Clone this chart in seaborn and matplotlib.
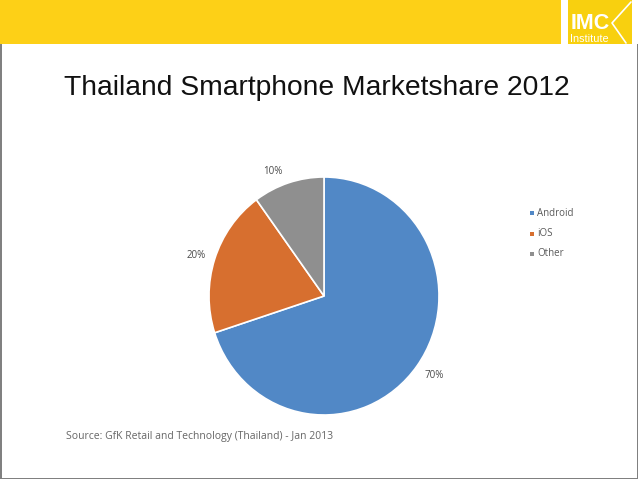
import matplotlib
matplotlib.use("Agg")
import matplotlib.pyplot as plt
from matplotlib.patches import Rectangle
from matplotlib.lines import Line2D
import seaborn as sns

categories = ["Android", "iOS", "Other"]
shares = [70, 20, 10]
share_labels = ["70%", "20%", "10%"]
colors = ["#5188C6", "#D76F2F", "#8F8F8F"]
title = "Thailand Smartphone Marketshare 2012"
source = "Source: GfK Retail and Technology (Thailand) - Jan 2013"

sns.set_theme(style="white")
plt.rcParams["font.family"] = ["Liberation Sans", "DejaVu Sans"]
W, H = 638, 479
fig = plt.figure(figsize=(W / 100, H / 100), dpi=100, facecolor="white")

def px(x, y, w, h, **kw):
    fig.add_artist(Rectangle((x / W, 1 - (y + h) / H), w / W, h / H,
                             transform=fig.transFigure, lw=0, **kw))

# header band and logo block
px(0, 0, 561, 44, color="#FDD017")
px(568, 0, 64, 44, color="#F8D00F")
fig.text(570.5 / W, 1 - 29 / H, "IMC", color="white", fontsize=15.5, fontweight="bold",
         family="Liberation Sans", va="baseline", ha="left")
fig.text(570 / W, 1 - 42 / H, "Institute", color="white", fontsize=7.8,
         family="Liberation Sans", va="baseline", ha="left")
fig.add_artist(Line2D([631 / W, 612 / W, 626 / W],
                      [1 - 2 / H, 1 - 23 / H, 1 - 43 / H],
                      transform=fig.transFigure, color="white", lw=1.2))
# slide frame
px(0, 44, 1.5, 434, color="#808080")
px(0, 477.5, 638, 1.5, color="#808080")
px(636.5, 44, 1.5, 434, color="#808080")

fig.text(64 / W, 1 - 95 / H, title, fontsize=20.3, color="#111111", ha="left", va="baseline")

# pie: centre (324,296), radii 115 x 119 px
ax = fig.add_axes([209 / W, 1 - 415 / H, 230 / W, 238 / H])
ax.pie(shares, colors=colors, startangle=90, counterclock=False, radius=1,
       wedgeprops=dict(edgecolor="white", linewidth=1.2))
ax.set_aspect("auto")
ax.set_xlim(-1, 1)
ax.set_ylim(-1, 1)
ax.axis("off")
ax.patch.set_alpha(0)

label_pos = [(434, 376), (196, 256), (273, 171)]
for txt, (x, y) in zip(share_labels, label_pos):
    fig.text(x / W, 1 - y / H, txt, fontsize=7.0, color="#4A4A4A",
             ha="center", va="center", family="Open Sans")

legend_y = [213, 234, 254]
for name, c, y in zip(categories, colors, legend_y):
    px(530, y - 2, 3.5, 4, color=c)
    fig.text(537 / W, 1 - y / H, name, fontsize=7.0, color="#5A5A5A",
             ha="left", va="center", family="Open Sans")

fig.text(66 / W, 1 - 436 / H, source, fontsize=7.5, color="#666666",
         ha="left", va="center", family="Open Sans")

fig.savefig("out.png", dpi=100, facecolor="white")
